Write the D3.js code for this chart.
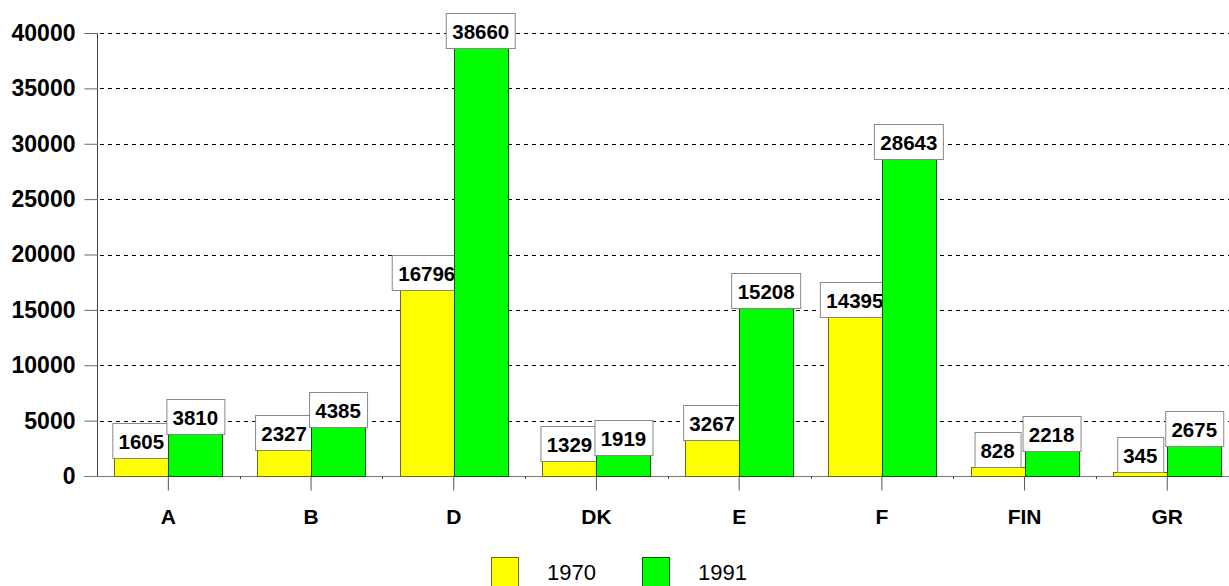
<!DOCTYPE html>
<html>
<head>
<meta charset="utf-8">
<script src="https://cdn.jsdelivr.net/npm/d3@7"></script>
<style>
  body { margin: 0; background: #fff; }
  svg { display: block; font-family: "Liberation Sans", Arial, sans-serif; }
</style>
</head>
<body>
<div class="container"></div>
<script>
var categories = ['A', 'B', 'D', 'DK', 'E', 'F', 'FIN', 'GR'];
var series = ['1970', '1991'];
var values1970 = [1605, 2327, 16796, 1329, 3267, 14395, 828, 345];
var values1991 = [3810, 4385, 38660, 1919, 15208, 28643, 2218, 2675];
var yTicks = [0, 5000, 10000, 15000, 20000, 25000, 30000, 35000, 40000];

var fills = { '1970': '#ffff00', '1991': '#00ff00' };
var strokes = { '1970': '#6b6b00', '1991': '#005500' };

var width = 1229, height = 586;
var plotLeft = 97, plotTop = 33, plotBottom = 476;
var step = 142.7;

var svg = d3.select('.container').append('svg')
    .attr('width', width)
    .attr('height', height);

var x = d3.scaleBand()
    .domain(categories)
    .range([plotLeft, plotLeft + step * categories.length])
    .paddingInner(0.243)
    .paddingOuter(0.1215);

var x1 = d3.scaleBand()
    .domain(series)
    .range([0, x.bandwidth()]);

var y = d3.scaleLinear()
    .domain([0, 40000])
    .range([plotBottom, plotTop]);

// dashed grid
svg.append('g')
  .selectAll('line')
  .data(yTicks.filter(function(d) { return d > 0; }))
  .enter().append('line')
    .attr('x1', plotLeft + 3)
    .attr('x2', width)
    .attr('y1', function(d) { return Math.round(y(d)) + 0.5; })
    .attr('y2', function(d) { return Math.round(y(d)) + 0.5; })
    .attr('stroke', '#000')
    .attr('stroke-dasharray', '4,4');

// y axis
var yAxis = svg.append('g')
    .attr('transform', 'translate(' + (plotLeft + 0.5) + ',0)')
    .call(d3.axisLeft(y).tickValues(yTicks).tickSize(13).tickPadding(9).tickFormat(d3.format('d')));
yAxis.select('.domain').attr('stroke', '#444').attr('d', 'M0,' + plotTop + 'V' + plotBottom);
yAxis.selectAll('.tick line').attr('stroke', '#666');
yAxis.selectAll('.tick text')
    .attr('font-size', 23)
    .attr('font-weight', 'bold')
    .attr('fill', '#000')
    .attr('font-family', '"Liberation Sans", Arial, sans-serif');

// baseline
svg.append('line')
    .attr('x1', plotLeft - 13).attr('x2', width)
    .attr('y1', plotBottom + 0.5).attr('y2', plotBottom + 0.5)
    .attr('stroke', '#777');

// x axis: center ticks + small boundary ticks
var xAxis = svg.append('g')
    .attr('transform', 'translate(0,' + (plotBottom + 0.5) + ')')
    .call(d3.axisBottom(x).tickSize(14).tickPadding(19));
xAxis.select('.domain').remove();
xAxis.selectAll('.tick line').attr('stroke', '#555');
xAxis.selectAll('.tick text')
    .attr('font-size', 21)
    .attr('font-weight', 'bold')
    .attr('fill', '#000')
    .attr('font-family', '"Liberation Sans", Arial, sans-serif');

svg.append('g')
  .selectAll('line')
  .data(categories.slice(1))
  .enter().append('line')
    .attr('x1', function(d) { return Math.round(x(d) - x.step() * x.paddingInner() / 2) + 0.5; })
    .attr('x2', function(d) { return Math.round(x(d) - x.step() * x.paddingInner() / 2) + 0.5; })
    .attr('y1', plotBottom)
    .attr('y2', plotBottom + 3)
    .attr('stroke', '#444');

// bars and value labels, series by series
var data = { '1970': values1970, '1991': values1991 };

series.forEach(function(s) {
  var rows = categories.map(function(c, i) { return { cat: c, value: data[s][i] }; });

  svg.append('g')
    .selectAll('rect')
    .data(rows)
    .enter().append('rect')
      .attr('x', function(d) { return Math.round(x(d.cat) + x1(s)) + 0.5; })
      .attr('y', function(d) { return Math.round(y(d.value)) + 0.5; })
      .attr('width', Math.round(x1.bandwidth()))
      .attr('height', function(d) { return Math.round(plotBottom - y(d.value)); })
      .attr('fill', fills[s])
      .attr('stroke', strokes[s]);

  var labels = svg.append('g')
    .selectAll('g')
    .data(rows)
    .enter().append('g')
      .attr('transform', function(d) {
        return 'translate(' + (x(d.cat) + x1(s) + x1.bandwidth() / 2) + ',' + Math.round(y(d.value)) + ')';
      });

  labels.append('rect')
      .attr('fill', '#fff')
      .attr('stroke', '#888');

  labels.append('text')
      .attr('text-anchor', 'middle')
      .attr('y', -9)
      .attr('font-size', 20.5)
      .attr('font-weight', 'bold')
      .attr('fill', '#000')
      .text(function(d) { return d.value; });

  labels.each(function() {
    var g = d3.select(this);
    var w = g.select('text').node().getComputedTextLength() + 12;
    g.select('rect')
      .attr('x', Math.round(-w / 2) + 0.5)
      .attr('y', -35 + 0.5)
      .attr('width', Math.round(w))
      .attr('height', 35);
  });
});

// legend
var legendX = [491, 642];
var legend = svg.append('g')
  .selectAll('g')
  .data(series)
  .enter().append('g')
    .attr('transform', function(d, i) { return 'translate(' + legendX[i] + ',557)'; });

legend.append('rect')
    .attr('x', 0.5).attr('y', 0.5)
    .attr('width', 27).attr('height', 34)
    .attr('fill', function(d) { return fills[d]; })
    .attr('stroke', function(d) { return strokes[d]; });

legend.append('text')
    .attr('x', 56)
    .attr('y', 23)
    .attr('font-size', 22)
    .attr('fill', '#000')
    .text(function(d) { return d; });
</script>
</body>
</html>
